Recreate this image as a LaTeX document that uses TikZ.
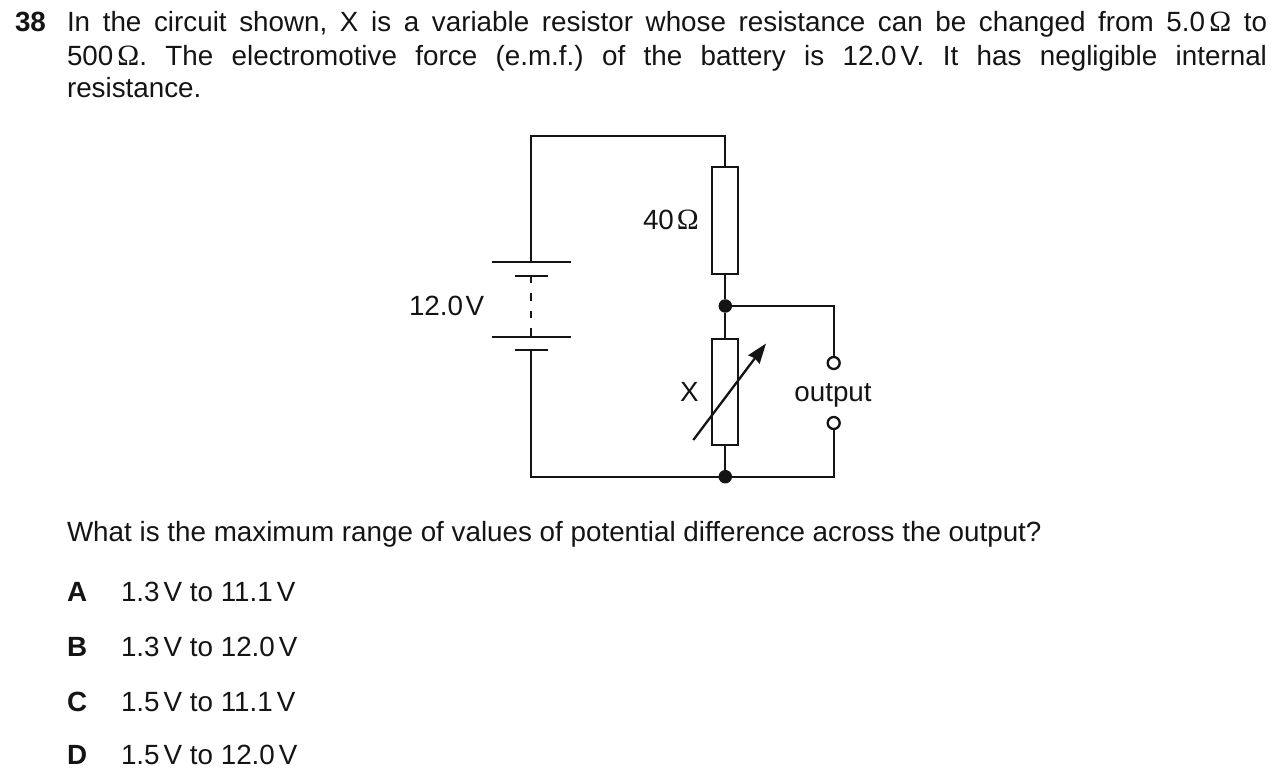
\documentclass[tikz,border=0pt]{standalone}
\usepackage{fontspec}
\setmainfont{Liberation Sans}
\newfontfamily\omegafont[Scale=1.06]{Liberation Serif}
\usetikzlibrary{arrows.meta}
\newcommand{\ohm}{{\omegafont\char"03A9}}
\newcommand{\tsp}{\hspace{4pt}}
\definecolor{ink}{HTML}{141414}
\tikzset{
  wire/.style={line width=2.3pt,draw=ink,line join=miter},
  resbox/.style={draw=ink,line width=2.3pt,fill=white,rectangle,minimum width=26pt,minimum height=#1,inner sep=0pt,outer sep=0pt},
  junction/.style={circle,fill=ink,draw=none,minimum size=13.5pt,inner sep=0pt,outer sep=0pt},
  terminal/.style={circle,fill=white,draw=ink,line width=2.3pt,minimum size=12pt,inner sep=0pt,outer sep=0pt},
  txt/.style={anchor=base west,inner sep=0pt,outer sep=0pt,text=ink,font=\fontsize{27.8}{33}\selectfont\frenchspacing},
  bold/.style={txt,font=\fontsize{27.8}{33}\selectfont\bfseries}
}
\begin{document}
\begin{tikzpicture}[x=1pt,y=-1pt]
\useasboundingbox (0,0) rectangle (1280,783);
% question text
\node[bold] (qnum) at (15,31.5) {38};
\node[txt] (l1) at (67,31.5) {\makebox[1200pt][s]{In the circuit shown, X is a variable resistor whose resistance can be changed from 5.0\tsp\ohm{} to}};
\node[txt] (l2) at (67,66) {\makebox[1200pt][s]{500\tsp\ohm. The electromotive force (e.m.f.) of the battery is 12.0\tsp V. It has negligible internal}};
\node[txt] (l3) at (67,98) {resistance.};
\node[txt] (q) at (67,541.5) {What is the maximum range of values of potential difference across the output?};
\node[bold] (A) at (67,601) {A};
\node[txt] (Aa) at (121,601) {1.3\tsp V to 11.1\tsp V};
\node[bold] (B) at (67,656) {B};
\node[txt] (Ba) at (121,656) {1.3\tsp V to 12.0\tsp V};
\node[bold] (C) at (67,711) {C};
\node[txt] (Ca) at (121,711) {1.5\tsp V to 11.1\tsp V};
\node[bold] (D) at (67,764.5) {D};
\node[txt] (Da) at (121,764.5) {1.5\tsp V to 12.0\tsp V};
% circuit points
\coordinate (tl) at (531.3,135.7);
\coordinate (tr) at (725.3,135.7);
\coordinate (bl) at (531.3,476.7);
\coordinate (br) at (833.7,476.7);
\coordinate (or) at (833.7,306);
\coordinate (p1a) at (491.7,262.3); \coordinate (p1b) at (571.3,262.3); \coordinate (p1m) at (531.3,262.3);
\coordinate (s1a) at (515,275.7); \coordinate (s1b) at (547.7,275.7); \coordinate (s1m) at (531.3,275.7);
\coordinate (p2a) at (491.7,337); \coordinate (p2b) at (571.3,337); \coordinate (p2m) at (531.3,337);
\coordinate (s2a) at (515,350.3); \coordinate (s2b) at (547.7,350.3); \coordinate (s2m) at (531.3,350.3);
\coordinate (ar1) at (693.3,440);
\coordinate (ar2) at (766,343.5);
% components
\node[resbox=106.7pt] (R) at (725.3,220.7) {};
\node[resbox=106.3pt] (Xr) at (725.3,392.2) {};
\node[junction] (j1) at (725.3,306) {};
\node[junction] (j2) at (725.3,476.7) {};
\node[terminal] (t1) at (833.7,363) {};
\node[terminal] (t2) at (833.7,423) {};
% wires
\draw[wire] (p1m) -- (tl) -- (tr) -- (R.north);
\draw[wire] (R.south) -- (j1);
\draw[wire] (j1) -- (Xr.north);
\draw[wire] (Xr.south) -- (j2);
\draw[wire] (j1) -- (or) -- (t1);
\draw[wire] (t2) -- (br) -- (j2);
\draw[wire] (j2) -- (bl) -- (s2m);
\draw[wire] (p1a) -- (p1b);
\draw[wire] (s1a) -- (s1b);
\draw[wire] (p2a) -- (p2b);
\draw[wire] (s2a) -- (s2b);
\draw[wire,dash pattern=on 7.5pt off 10pt] (s1m) -- (p2m);
\draw[wire,-{Stealth[length=20pt,width=14pt,inset=1.5pt]}] (ar1) -- (ar2);
% labels
\node[txt] (l40) at (643,230) {40\hspace{3pt}\ohm};
\node[txt] (l12) at (409,316) {12.0\hspace{2.5pt}V};
\node[txt] (lX) at (680,402) {X};
\node[txt,anchor=base] (lout) at (833,402) {output};
\end{tikzpicture}
\end{document}
